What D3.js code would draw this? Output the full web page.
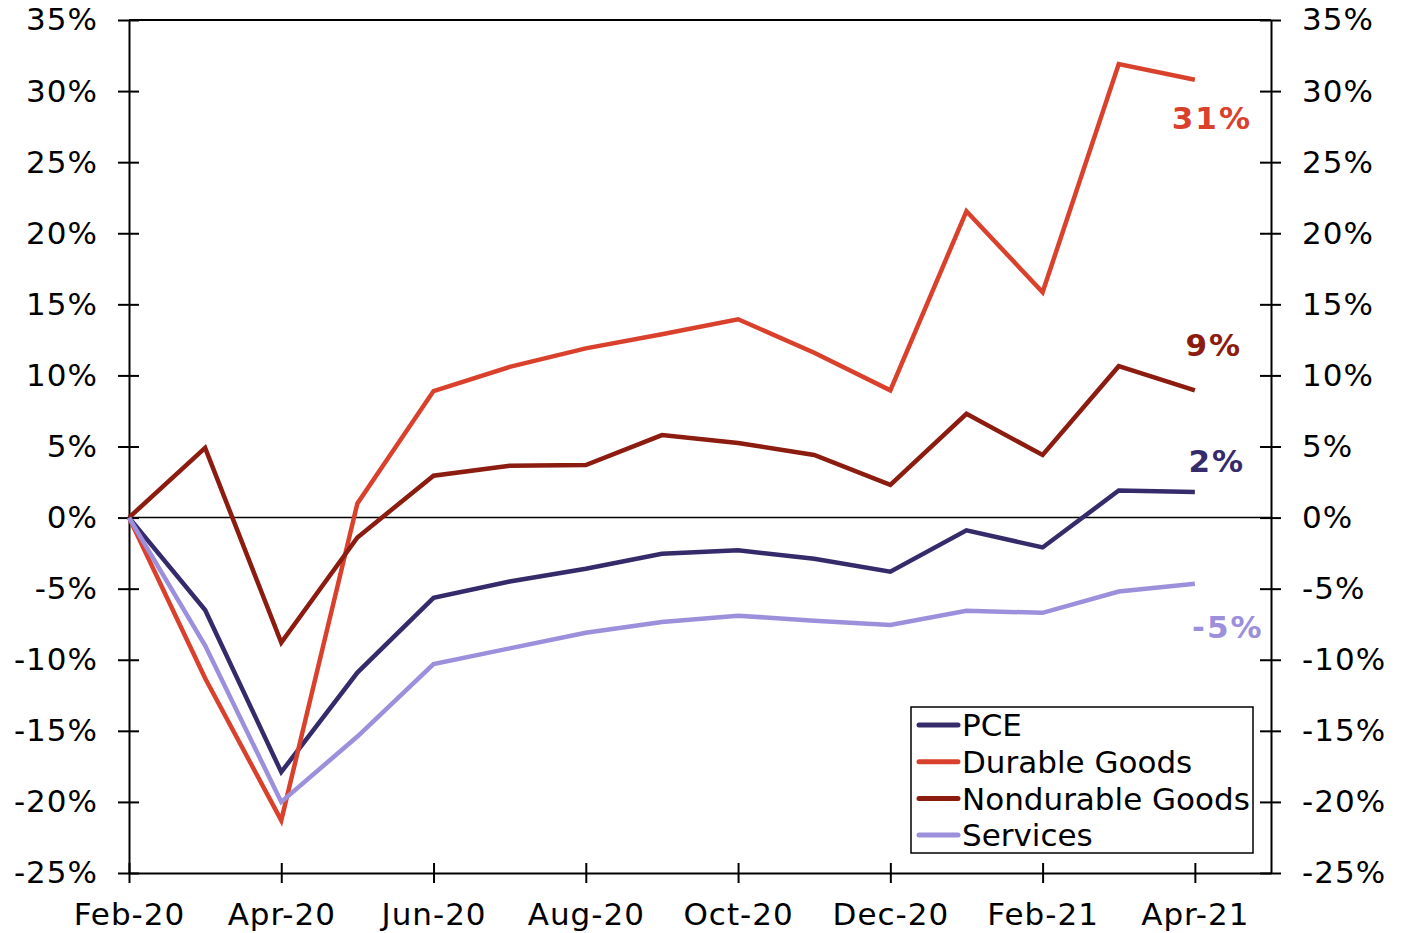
<!DOCTYPE html>
<html><head><meta charset="utf-8">
<script src="https://cdn.jsdelivr.net/npm/d3@7"></script>
<style>
body{margin:0;background:#fff;}
svg{display:block;font-family:"DejaVu Sans",Verdana,sans-serif;}
</style></head><body>
<svg id="chart" width="1402" height="933"></svg>
<script>
const months = ["Feb-20","Mar-20","Apr-20","May-20","Jun-20","Jul-20","Aug-20","Sep-20","Oct-20","Nov-20","Dec-20","Jan-21","Feb-21","Mar-21","Apr-21"];
const tickLabels = ["Feb-20","Apr-20","Jun-20","Aug-20","Oct-20","Dec-20","Feb-21","Apr-21"];
const yTicks = [-25,-20,-15,-10,-5,0,5,10,15,20,25,30,35];
const seriesNames = ["PCE","Durable Goods","Nondurable Goods","Services"];
const pce =        [0,-6.5,-17.9,-10.9,-5.65,-4.5,-3.6,-2.55,-2.3,-2.9,-3.8,-0.9,-2.1,1.9,1.8];
const durable =    [0,-11.3,-21.3,1.0,8.9,10.6,11.9,12.9,13.95,11.6,8.95,21.55,15.85,31.9,30.8];
const nondurable = [0,4.9,-8.8,-1.4,2.95,3.65,3.7,5.8,5.25,4.4,2.3,7.3,4.4,10.65,8.95];
const services =   [0,-9.0,-20.0,-15.4,-10.3,-9.2,-8.1,-7.35,-6.9,-7.25,-7.55,-6.55,-6.7,-5.2,-4.65];
const endLabels = ["2%","31%","9%","-5%"];

const colors = ["#352b6b","#da412c","#8c1b10","#9c8fdc"];
const data = [pce, durable, nondurable, services];

const svg = d3.select("#chart");
const L = 129, R = 1271, T = 20, B = 873;
const x = d3.scaleLinear().domain([0, months.length]).range([L, R]);
const y = d3.scaleLinear().domain([-25, 35]).range([B, T]);
const FS = 31;

function styleText(g){
  g.selectAll("text").attr("font-size",FS).attr("font-family","DejaVu Sans")
   .attr("letter-spacing","1px").attr("fill","#000");
}

// frame
svg.append("line").attr("x1",L).attr("x2",R).attr("y1",T).attr("y2",T).attr("stroke","#000").attr("stroke-width",2);

// zero line
svg.append("line").attr("x1",L).attr("x2",R).attr("y1",y(0)).attr("y2",y(0)).attr("stroke","#000").attr("stroke-width",1.5);

// left axis
const gl = svg.append("g").attr("transform",`translate(${L},0)`)
  .call(d3.axisLeft(y).tickValues(yTicks).tickFormat(d=>d+"%").tickSize(0).tickPadding(31));
gl.select(".domain").attr("stroke-width",2);
gl.selectAll(".tick line").attr("x1",-11).attr("x2",10).attr("stroke-width",2);
styleText(gl);

// right axis
const gr = svg.append("g").attr("transform",`translate(${R},0)`)
  .call(d3.axisRight(y).tickValues(yTicks).tickFormat(d=>d+"%").tickSize(0).tickPadding(31));
gr.select(".domain").attr("stroke-width",2);
gr.selectAll(".tick line").attr("x1",-11).attr("x2",10).attr("stroke-width",2);
styleText(gr);

// bottom axis
const gb = svg.append("g").attr("transform",`translate(0,${B})`)
  .call(d3.axisBottom(x).tickValues(tickLabels.map(t=>months.indexOf(t))).tickFormat(i=>months[i]).tickSize(0).tickPadding(30));
gb.select(".domain").attr("stroke-width",2);
gb.selectAll(".tick line").attr("y1",-10).attr("y2",10).attr("stroke-width",2);
styleText(gb);

// lines
const line = d3.line().x((d,i)=>x(i)).y(d=>y(d));
data.forEach((s,k)=>{
  svg.append("path").datum(s).attr("d",line).attr("fill","none")
    .attr("stroke",colors[k]).attr("stroke-width",4.5).attr("stroke-linejoin","miter");
});

// end labels (pixel offsets from last point)
const labelPos = [{dx:22,dy:-31},{dx:17,dy:38},{dx:19,dy:-46},{dx:33,dy:43}];
data.forEach((s,k)=>{
  const last = s.length-1;
  svg.append("text").attr("x",x(last)+labelPos[k].dx).attr("y",y(s[last])+labelPos[k].dy)
    .attr("text-anchor","middle").attr("dy","0.36em").attr("letter-spacing","2px")
    .attr("font-size",31).attr("font-weight","bold").attr("fill",colors[k]).text(endLabels[k]);
});

// legend
const lg = svg.append("g");
lg.append("rect").attr("x",911).attr("y",707).attr("width",342).attr("height",146)
  .attr("fill","#fff").attr("stroke","#000").attr("stroke-width",1.5);
seriesNames.forEach((n,k)=>{
  const yy = 725 + k*36.7;
  lg.append("line").attr("x1",919).attr("x2",958).attr("y1",yy).attr("y2",yy)
    .attr("stroke",colors[k]).attr("stroke-width",5).attr("stroke-linecap","round");
  lg.append("text").attr("x",962).attr("y",yy).attr("dy","0.36em").attr("font-size",FS).attr("fill","#000").text(n);
});
</script></body></html>
